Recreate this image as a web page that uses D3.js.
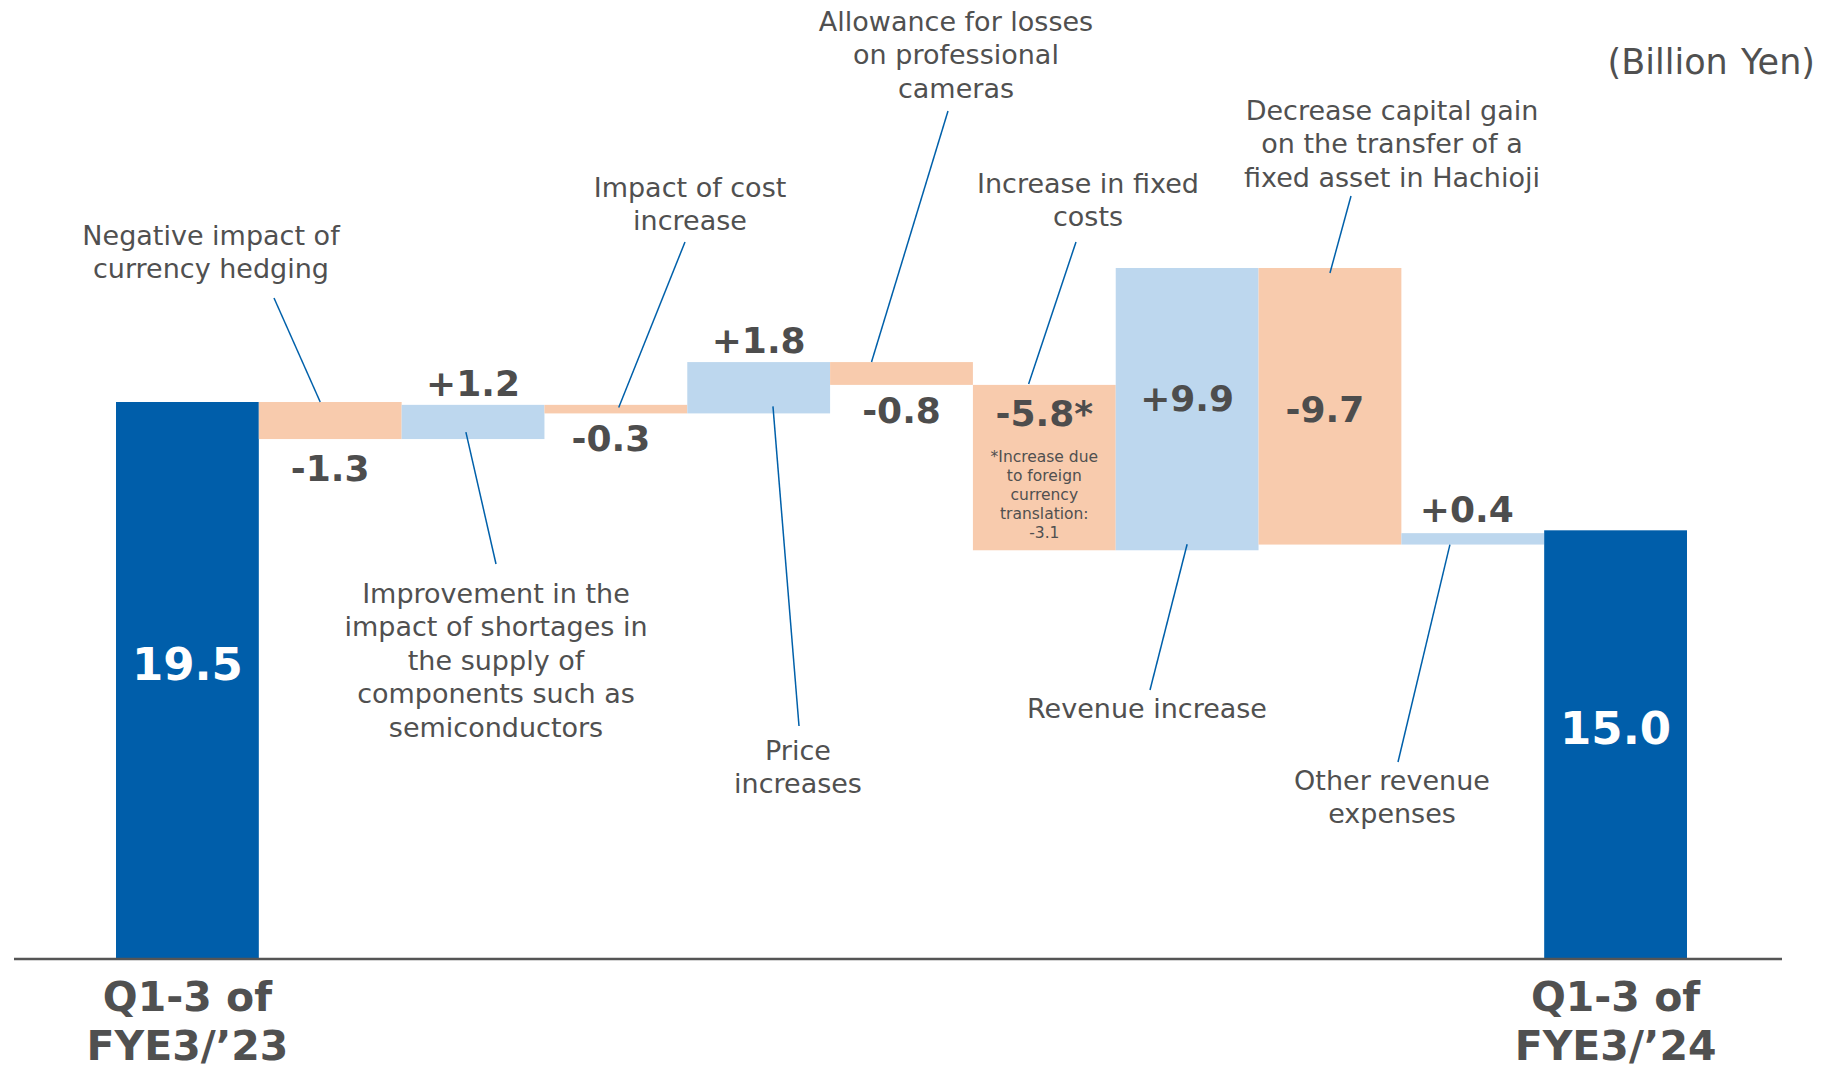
<!DOCTYPE html>
<html>
<head>
<meta charset="utf-8">
<script src="https://cdn.jsdelivr.net/npm/d3@7"></script>
<style>
  body { margin: 0; background: #fff; }
  svg text { font-family: "DejaVu Sans", Verdana, sans-serif; fill: #505050; }
</style>
</head>
<body>
<div id="chart"></div>
<script>
// ---- data ----
const steps = ["start", "hedging", "shortage", "cost", "price", "allowance", "fixed", "revenue", "hachioji", "other", "end"];
const stepValues = [19.5, -1.3, 1.2, -0.3, 1.8, -0.8, -5.8, 9.9, -9.7, 0.4, 15.0];
const valueLabels = ["19.5", "-1.3", "+1.2", "-0.3", "+1.8", "-0.8", "-5.8*", "+9.9", "-9.7", "+0.4", "15.0"];
const categoryLabels = [["Q1-3 of", "FYE3/\u201923"], ["Q1-3 of", "FYE3/\u201924"]];
const footnoteLines = ["*Increase due", "to foreign", "currency", "translation:", "-3.1"];
const noteTexts = [
  ["Negative impact of", "currency hedging"],
  ["Improvement in the", "impact of shortages in", "the supply of", "components such as", "semiconductors"],
  ["Impact of cost", "increase"],
  ["Price", "increases"],
  ["Allowance for losses", "on professional", "cameras"],
  ["Increase in fixed", "costs"],
  ["Decrease capital gain", "on the transfer of a", "fixed asset in Hachioji"],
  ["Revenue increase"],
  ["Other revenue", "expenses"]
];
const unitLabel = "(Billion Yen)";

// ---- layout ----
const W = 1830, H = 1072;
const colors = { total: "#005EAA", up: "#BDD7EE", down: "#F8CBAD", line: "#0060AA" };

const svg = d3.select("#chart").append("svg")
  .attr("width", W).attr("height", H);

const x = d3.scaleBand().domain(steps).range([116, 1687]).paddingInner(0).paddingOuter(0);
const y = d3.scaleLinear().domain([0, 19.5]).range([958, 402]);

// running totals for the waterfall
let run = 0;
const bars = steps.map((s, i) => {
  const v = stepValues[i];
  let lo, hi, kind;
  if (i === 0 || i === steps.length - 1) {
    lo = 0; hi = v; kind = "total"; run = v;
  } else {
    const from = run; run = run + v;
    lo = Math.min(from, run); hi = Math.max(from, run);
    kind = v >= 0 ? "up" : "down";
  }
  return { key: s, value: v, lo, hi, kind, label: valueLabels[i] };
});

svg.append("g").selectAll("rect")
  .data(bars)
  .join("rect")
  .attr("x", d => x(d.key))
  .attr("width", x.bandwidth())
  .attr("y", d => y(d.hi))
  .attr("height", d => y(d.lo) - y(d.hi))
  .attr("fill", d => colors[d.kind]);

// baseline
svg.append("line")
  .attr("x1", 14).attr("x2", 1782)
  .attr("y1", y(0) + 1).attr("y2", y(0) + 1)
  .attr("stroke", "#555").attr("stroke-width", 2.5);

// value labels: where they sit relative to each bar
const labelPlace = {
  hedging: ["bottom", 29], shortage: ["top", -21], cost: ["bottom", 25], price: ["top", -22],
  allowance: ["bottom", 26], fixed: ["top", 29], revenue: ["top", 131], hachioji: ["top", 142], other: ["top", -24]
};

svg.append("g").selectAll("text")
  .data(bars.filter(d => d.kind !== "total"))
  .join("text")
  .attr("x", d => x(d.key) + x.bandwidth() / 2 + (d.key === "cost" || d.key === "hachioji" ? -5 : 0) + (d.key === "other" ? -6 : 0))
  .attr("y", d => {
    const p = labelPlace[d.key];
    return (p[0] === "top" ? y(d.hi) : y(d.lo)) + p[1];
  })
  .attr("text-anchor", "middle")
  .attr("dominant-baseline", "central")
  .style("font-size", "36px")
  .style("font-weight", "bold")
  .style("fill", "#4d4d4d")
  .text(d => d.label);

// total labels
svg.append("g").selectAll("text")
  .data(bars.filter(d => d.kind === "total"))
  .join("text")
  .attr("x", d => x(d.key) + x.bandwidth() / 2)
  .attr("y", d => (y(d.lo) + y(d.hi)) / 2 - 16)
  .attr("text-anchor", "middle")
  .attr("dominant-baseline", "central")
  .style("font-size", "45px")
  .style("font-weight", "bold")
  .style("fill", "#fff")
  .text(d => d.label);

// category labels under the totals
const totals = [steps[0], steps[steps.length - 1]];
totals.forEach((k, i) => {
  const t = svg.append("text")
    .attr("x", x(k) + x.bandwidth() / 2)
    .attr("text-anchor", "middle")
    .style("font-size", "41px")
    .style("font-weight", "bold");
  categoryLabels[i].forEach((line, j) => {
    t.append("tspan")
      .attr("x", x(k) + x.bandwidth() / 2)
      .attr("y", 997 + j * 49)
      .attr("dominant-baseline", "central")
      .text(line);
  });
});

// footnote inside the fixed-cost bar
const fn = svg.append("text")
  .attr("text-anchor", "middle")
  .style("font-size", "15.5px");
footnoteLines.forEach((line, j) => {
  fn.append("tspan")
    .attr("x", x("fixed") + x.bandwidth() / 2)
    .attr("y", 457 + j * 19)
    .attr("dominant-baseline", "central")
    .text(line);
});

// annotations: text block + leader line to a bar
const notes = [
  { key: "hedging",   tx: 211,  ty: 235, lx: 274,  ly: 298, fx: 0.43, end: "top",    dy: 0 },
  { key: "shortage",  tx: 496,  ty: 593, lx: 496,  ly: 564, fx: 0.45, end: "bottom", dy: -7 },
  { key: "cost",      tx: 690,  ty: 187, lx: 685,  ly: 242, fx: 0.52, end: "bottom", dy: -6 },
  { key: "price",     tx: 798,  ty: 750, lx: 799,  ly: 726, fx: 0.60, end: "bottom", dy: -7 },
  { key: "allowance", tx: 956,  ty: 21,  lx: 948,  ly: 111, fx: 0.29, end: "top",    dy: 0 },
  { key: "fixed",     tx: 1088, ty: 183, lx: 1076, ly: 242, fx: 0.39, end: "top",    dy: -1 },
  { key: "hachioji",  tx: 1392, ty: 110, lx: 1351, ly: 196, fx: 0.50, end: "top",    dy: 5 },
  { key: "revenue",   tx: 1147, ty: 708, lx: 1150, ly: 690, fx: 0.50, end: "bottom", dy: -6 },
  { key: "other",     tx: 1392, ty: 780, lx: 1398, ly: 762, fx: 0.34, end: "bottom", dy: 0 }
];
const byKey = new Map(bars.map(d => [d.key, d]));

const noteG = svg.append("g");
notes.forEach((n, i) => {
  const b = byKey.get(n.key);
  const bx = x(n.key) + x.bandwidth() * n.fx;
  const by = (n.end === "top" ? y(b.hi) : y(b.lo)) + n.dy;
  noteG.append("line")
    .attr("x1", n.lx).attr("y1", n.ly)
    .attr("x2", bx).attr("y2", by)
    .attr("stroke", colors.line).attr("stroke-width", 1.5);
  const t = noteG.append("text")
    .attr("text-anchor", "middle")
    .style("font-size", "27px");
  noteTexts[i].forEach((line, j) => {
    t.append("tspan")
      .attr("x", n.tx)
      .attr("y", n.ty + j * 33.5)
      .attr("dominant-baseline", "central")
      .text(line);
  });
});

// unit
svg.append("text")
  .attr("x", 1815).attr("y", 62)
  .attr("text-anchor", "end")
  .attr("dominant-baseline", "central")
  .style("font-size", "35px")
  .style("word-spacing", "2px")
  .text(unitLabel);
</script>
</body>
</html>
